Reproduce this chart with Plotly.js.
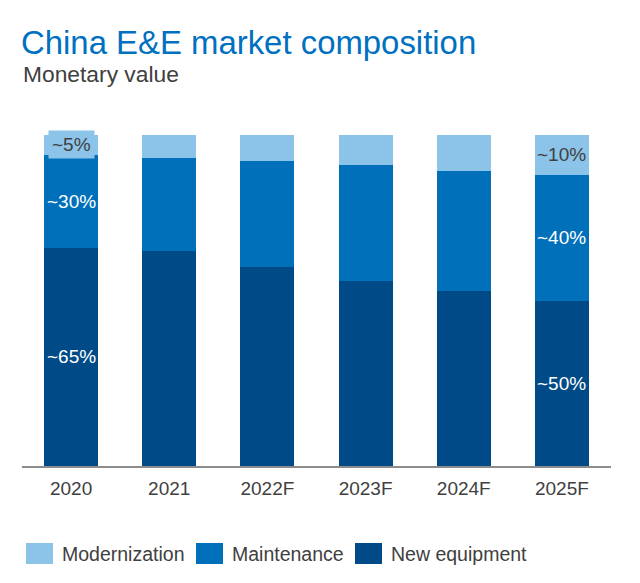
<!DOCTYPE html>
<html>
<head>
<meta charset="utf-8">
<script src="https://cdn.plot.ly/plotly-3.0.1.min.js"></script>
<style>
  html, body { margin: 0; padding: 0; background: #ffffff; }
  #chart { width: 640px; height: 583px; }
</style>
</head>
<body>
<div id="chart"></div>
<script>
// ---- Data ----
const years = ["2020", "2021", "2022F", "2023F", "2024F", "2025F"];
const seriesNames = ["New equipment", "Maintenance", "Modernization"];
const newEquipment  = [66, 65, 60, 56, 53, 50];
const maintenance   = [28, 28, 32, 35, 36, 38];
const modernization = [6, 7, 8, 9, 11, 12];
const newEquipmentLabels  = ["~65%", "", "", "", "", "~50%"];
const maintenanceLabels   = ["~30%", "", "", "", "", "~40%"];
const modernizationLabels = ["~5%", "", "", "", "", "~10%"];

// ---- Styles ----
const FONT = "Arial, 'Liberation Sans', sans-serif";
const colors = { "New equipment": "#004B87", "Maintenance": "#0070BA", "Modernization": "#8CC3E8" };
const labelColors = { "New equipment": "#ffffff", "Maintenance": "#ffffff", "Modernization": "#404040" };

const seriesValues = [newEquipment, maintenance, modernization];
const seriesLabels = [newEquipmentLabels, maintenanceLabels, modernizationLabels];

const traces = seriesNames.map((name, i) => ({
  type: "bar",
  name: name,
  x: years,
  y: seriesValues[i],
  marker: { color: colors[name], line: { width: 0 } },
  hoverinfo: "x+y+name",
  showlegend: false
}));

// segment labels at middle of each segment, computed from the data
// (x given as category index so numeric-looking names are not read as numbers)
const annotations = [];
years.forEach((yr, j) => {
  let base = 0;
  seriesNames.forEach((name, i) => {
    const v = seriesValues[i][j];
    const lab = seriesLabels[i][j];
    if (lab) {
      const a = {
        x: j, y: base + v / 2, xref: "x", yref: "y",
        text: lab, showarrow: false,
        font: { family: FONT, size: 19, color: labelColors[name] }
      };
      if (v < 8) { a.bgcolor = colors[name]; a.borderpad = 3; }
      annotations.push(a);
    }
    base += v;
  });
});

// Plot area in pixels (for converting legend/title positions)
const L = 22, R = 611, T = 135, B = 466;
const px2x = p => (p - L) / (R - L);
const px2y = p => (B - p) / (B - T);

// Subtitle
annotations.push({
  xref: "paper", yref: "paper", x: px2x(21), y: px2y(74),
  xanchor: "left", yanchor: "middle", showarrow: false,
  text: "Monetary value",
  font: { family: FONT, size: 22.8, color: "#404040" }
});

// Custom legend (order: Modernization, Maintenance, New equipment)
const legendOrder = ["Modernization", "Maintenance", "New equipment"];
const legendSquareX = [26, 196, 355];
const shapes = [];
legendOrder.forEach((name, k) => {
  const x0 = legendSquareX[k];
  shapes.push({
    type: "rect", xref: "paper", yref: "paper",
    x0: px2x(x0), x1: px2x(x0 + 27), y0: px2y(564), y1: px2y(543),
    fillcolor: colors[name], line: { width: 0 }
  });
  annotations.push({
    xref: "paper", yref: "paper", x: px2x(x0 + 34), y: px2y(554),
    xanchor: "left", yanchor: "middle", showarrow: false,
    text: name, font: { family: FONT, size: 19.5, color: "#404040" }
  });
});

const layout = {
  width: 640, height: 583,
  margin: { l: L, r: 640 - R, t: T, b: 583 - B, pad: 0 },
  paper_bgcolor: "#ffffff", plot_bgcolor: "#ffffff",
  barmode: "stack",
  bargap: 0.45,
  showlegend: false,
  title: {
    text: "China E&E market composition",
    x: 21 / 640, xref: "container", xanchor: "left",
    y: 1 - 42 / 583, yref: "container", yanchor: "middle",
    font: { family: FONT, size: 32.9, color: "#0070C0" }
  },
  xaxis: {
    type: "category",
    categoryarray: years, categoryorder: "array",
    range: [-0.5, years.length - 0.5],
    showgrid: false, zeroline: false,
    showline: true, linecolor: "#8C8C8C", linewidth: 2,
    ticks: "", ticklabelstandoff: 4,
    tickfont: { family: FONT, size: 19, color: "#404040" },
    fixedrange: true
  },
  yaxis: {
    range: [0, 100],
    showgrid: false, zeroline: false, showline: false,
    showticklabels: false, ticks: "",
    fixedrange: true
  },
  annotations: annotations,
  shapes: shapes
};

Plotly.newPlot("chart", traces, layout, { displayModeBar: false, staticPlot: true });
</script>
</body>
</html>
